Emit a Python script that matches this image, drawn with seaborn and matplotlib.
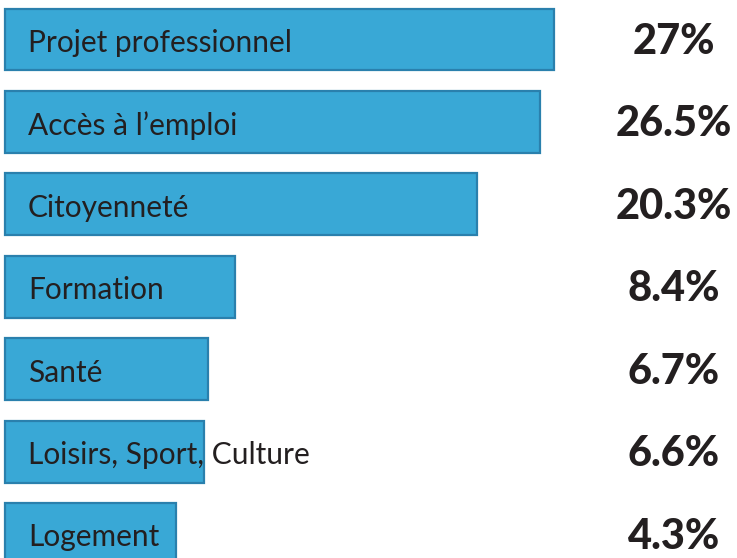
import numpy as np
import pandas as pd
import matplotlib.pyplot as plt
import seaborn as sns

# categories and shares (%)
categories = ["Projet professionnel", "Accès à l’emploi", "Citoyenneté", "Formation",
              "Santé", "Loisirs, Sport, Culture", "Logement"]
shares = [27, 26.5, 20.3, 8.4, 6.7, 6.6, 4.3]
share_labels = ["27%", "26.5%", "20.3%", "8.4%", "6.7%", "6.6%", "4.3%"]
# bar lengths as drawn in the infographic (not proportional to the shares)
bar_length = [27, 26.3, 23.2, 11.3, 10.0, 9.8, 8.4]

df = pd.DataFrame({"cat": categories, "len": bar_length})

sns.set_style("white")
plt.rcParams["font.family"] = ["Lato", "DejaVu Sans"]

W, H = 737, 558
fig = plt.figure(figsize=(W / 100, H / 100), dpi=100)
ax = fig.add_axes([0, 0, 1, 1])

sns.barplot(data=df, x="len", y="cat", orient="h", color="#39a8d6",
            width=0.75, saturation=1, ax=ax)
for p in ax.patches:
    p.set_edgecolor("#2a80ad")
    p.set_linewidth(1.6)

# pixel-like scaling: longest bar 549 px starting at x=5
k = 27 / 549
ax.set_xlim(-5 * k, (W - 5) * k)
ax.set_ylim(6.29, -0.479)

for i, cat in enumerate(categories):
    ax.text(23 * k, i + 0.04, cat, va="center", ha="left", fontsize=21.5,
            fontweight="normal", color="#231f20")
    ax.text((674 - 5) * k, i + 0.03, share_labels[i], va="center", ha="center",
            fontsize=30, fontweight="black", color="#231f20")

ax.axis("off")
fig.savefig("out.png", dpi=100)
